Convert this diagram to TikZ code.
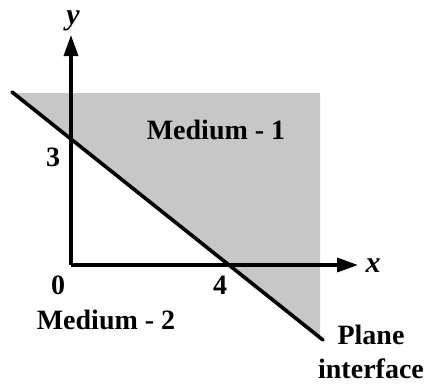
\documentclass[tikz,border=0pt]{standalone}
\usepackage{fontspec}
\setmainfont{Liberation Serif}
\usetikzlibrary{arrows.meta}
\begin{document}
\begin{tikzpicture}[x=1pt,y=-1pt,
  axis/.style={line width=3.4pt,-{Triangle[length=21pt,width=14pt]}},
  iface/.style={line width=3.6pt},
  lbl/.style={font=\fontsize{28}{30}\selectfont\bfseries,inner sep=0pt},
  axlbl/.style={font=\fontsize{30}{32}\selectfont\bfseries\itshape,inner sep=0pt},
  shade/.style={fill=black!22,draw=none}]
\useasboundingbox (0,0) rectangle (426,386);
\coordinate (O) at (71,265);
\coordinate (ytip) at (71,35);
\coordinate (xtip) at (358,265);
\coordinate (A) at (12,92);
\coordinate (B) at (323,340);
% shaded medium 1
\fill[shade] (14,93) -- (320,93) -- (320,337.5) -- cycle;
% axes
\draw[axis] (O) -- (ytip);
\draw[axis] (O) -- (xtip);
% interface
\draw[iface,line cap=round] (A) -- (B);
% labels
\node[axlbl] (ylab) at (73,21) {y};
\node[axlbl] (xlab) at (373,266) {x};
\node[lbl] (three) at (53,157) {3};
\node[lbl] (zero) at (58,285) {0};
\node[lbl] (four) at (220,285) {4};
\node[lbl] (m1) at (216,130) {Medium - 1};
\node[lbl] (m2) at (106,320) {Medium - 2};
\node[lbl] (plane) at (371,335) {Plane};
\node[lbl] (interf) at (371,369) {interface};
\end{tikzpicture}
\end{document}
